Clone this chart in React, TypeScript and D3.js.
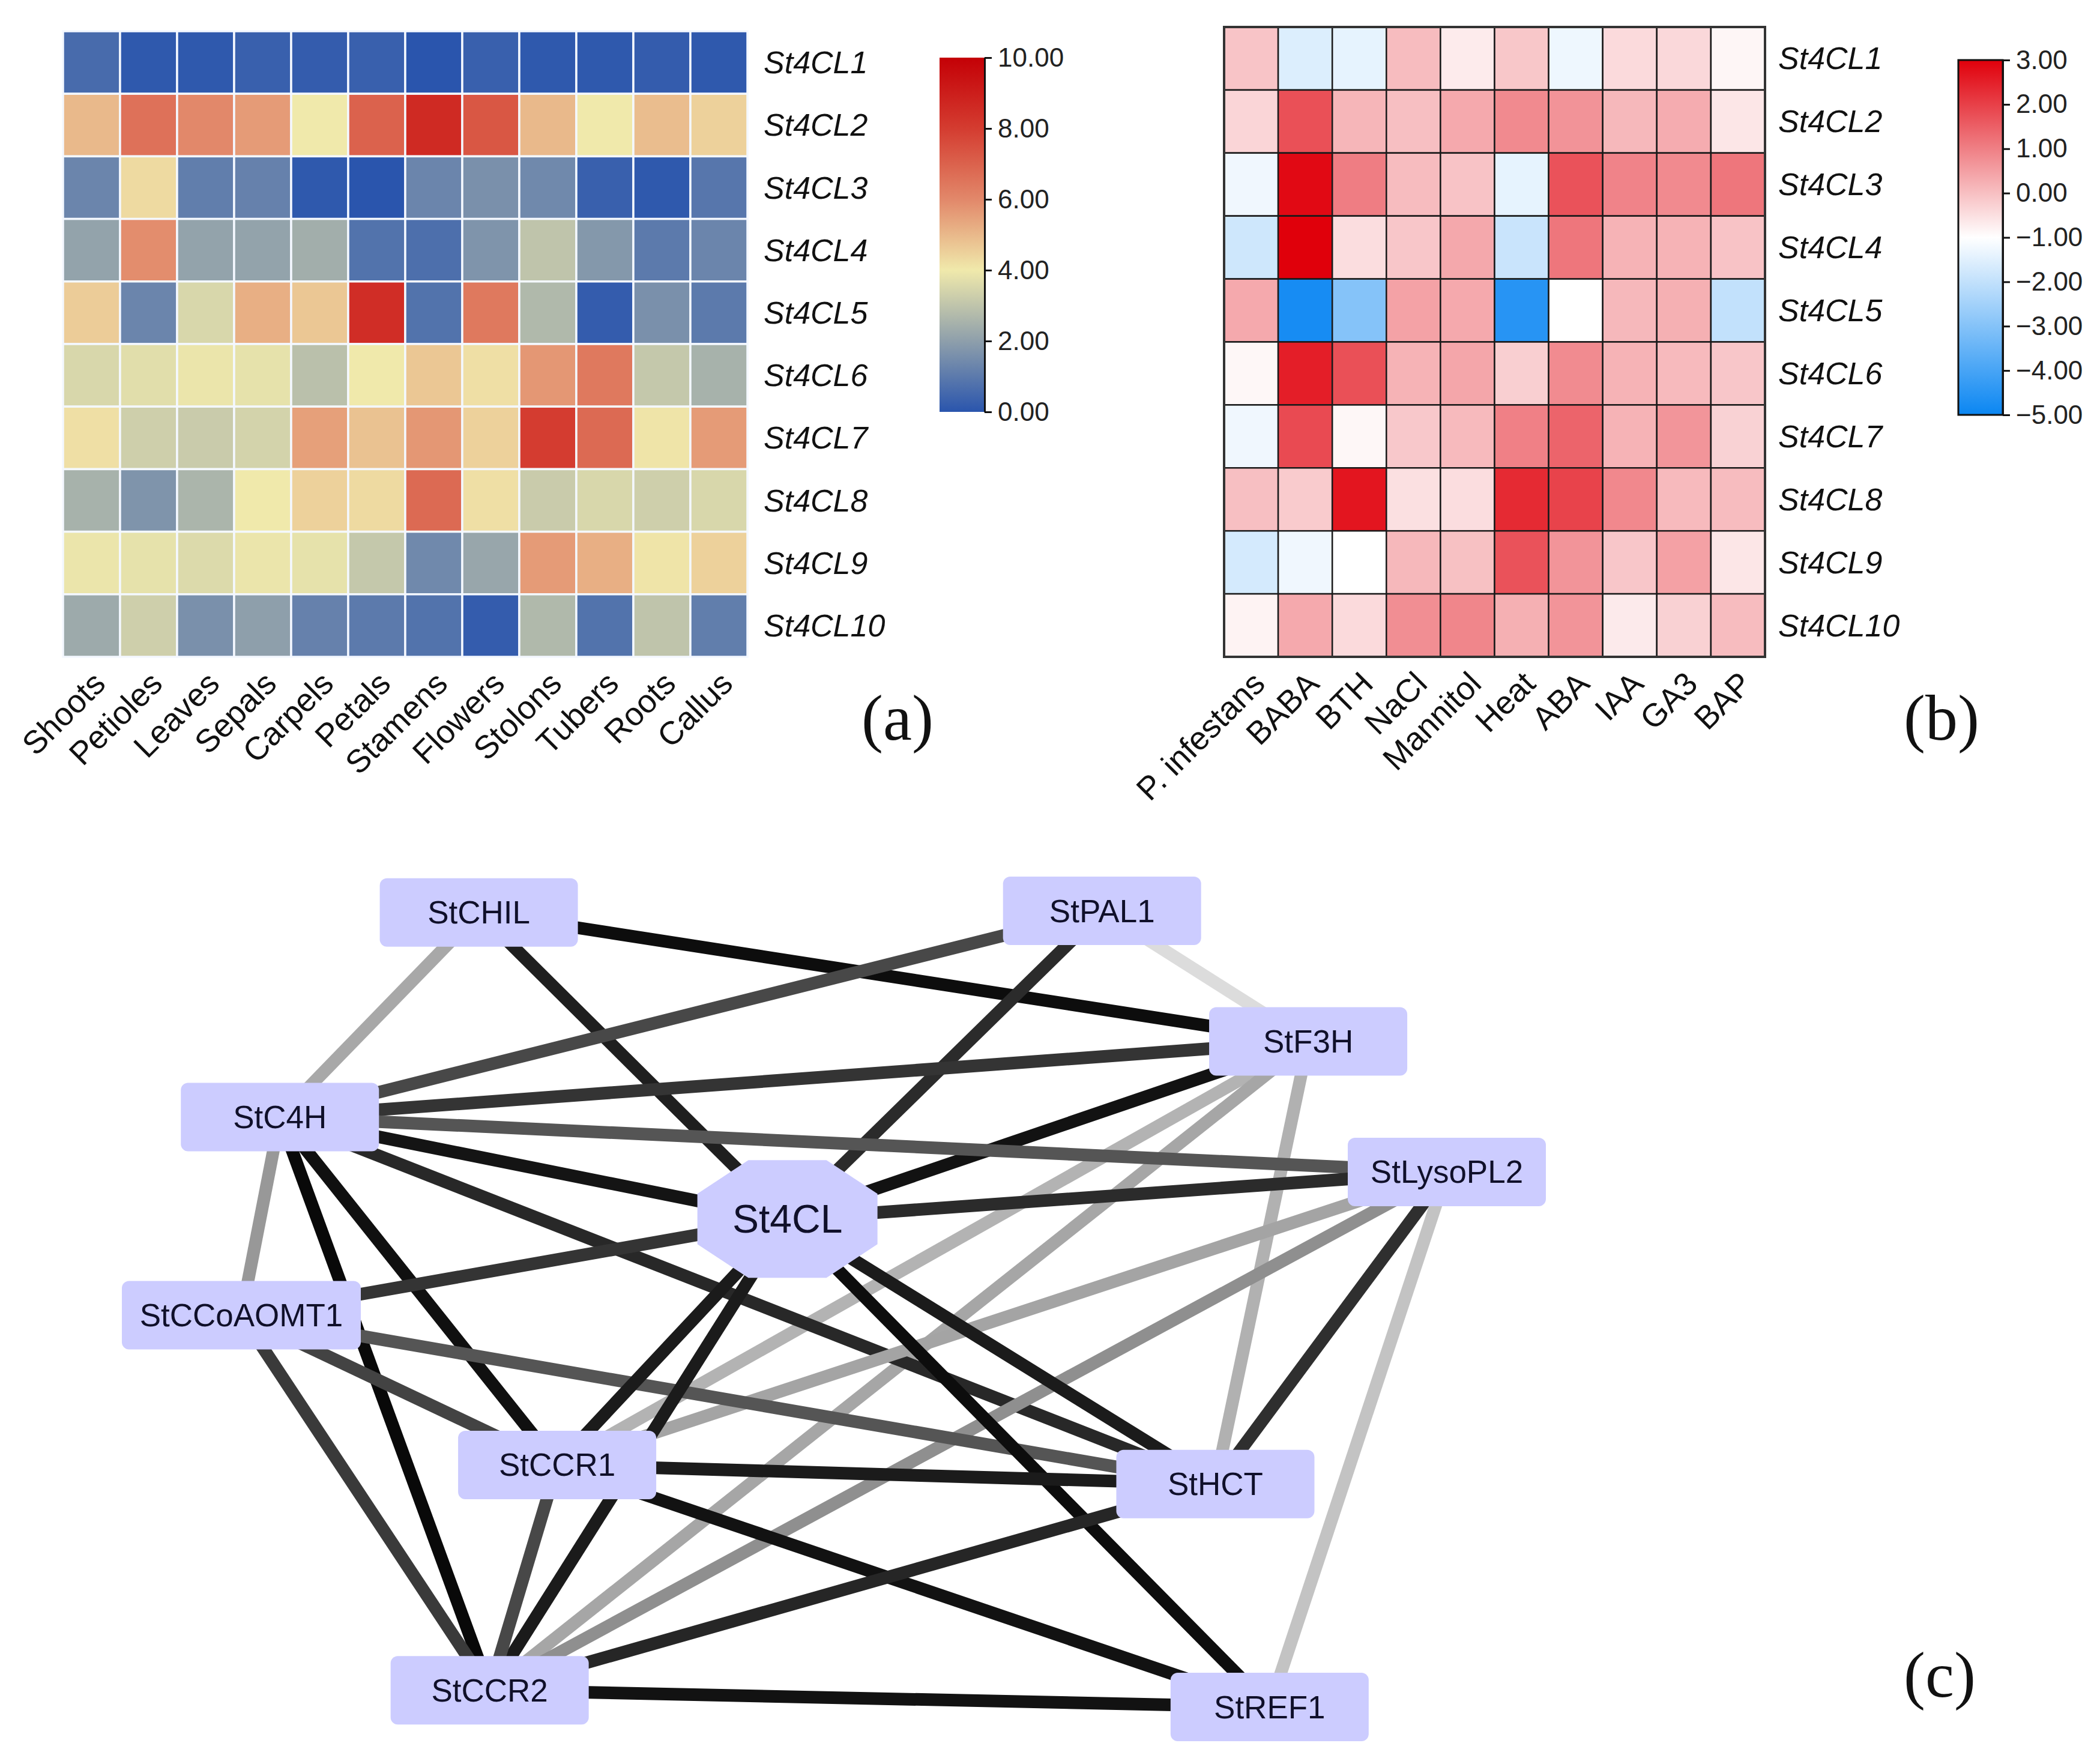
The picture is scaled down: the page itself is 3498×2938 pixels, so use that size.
import React, { useRef, useEffect } from 'react';
import * as d3 from 'd3';

// genes (rows of both heatmaps)
const genes = ["St4CL1", "St4CL2", "St4CL3", "St4CL4", "St4CL5", "St4CL6", "St4CL7", "St4CL8", "St4CL9", "St4CL10"];
const tissues = ["Shoots", "Petioles", "Leaves", "Sepals", "Carpels", "Petals", "Stamens", "Flowers", "Stolons", "Tubers", "Roots", "Callus"];
const treatments = ["P. infestans", "BABA", "BTH", "NaCl", "Mannitol", "Heat", "ABA", "IAA", "GA3", "BAP"];

// (a) expression per tissue, one row per gene
const tissueExpr = [
    [0.6, 0.1, 0.1, 0.3, 0.2, 0.3, 0.0, 0.3, 0.1, 0.1, 0.2, 0.1],
    [5.0, 6.6, 6.0, 5.6, 4.0, 7.0, 8.6, 7.3, 5.0, 4.0, 4.9, 4.5],
    [1.3, 4.3, 1.1, 1.2, 0.1, 0.0, 1.3, 1.6, 1.4, 0.3, 0.1, 0.9],
    [2.1, 5.9, 2.1, 2.1, 2.4, 0.8, 0.7, 1.7, 3.0, 1.8, 1.0, 1.3],
    [4.6, 1.3, 3.5, 5.2, 4.7, 8.5, 0.8, 6.4, 2.7, 0.2, 1.6, 1.0],
    [3.5, 3.7, 3.9, 3.8, 2.9, 4.0, 4.7, 4.2, 5.7, 6.4, 3.1, 2.5],
    [4.2, 3.3, 3.2, 3.4, 5.5, 4.8, 5.7, 4.5, 8.0, 6.8, 4.1, 5.6],
    [2.5, 1.7, 2.6, 4.0, 4.5, 4.3, 6.8, 4.2, 3.2, 3.5, 3.3, 3.5],
    [3.9, 3.8, 3.6, 3.9, 3.8, 3.1, 1.4, 2.2, 5.6, 5.2, 4.1, 4.5],
    [2.3, 3.3, 1.6, 2.0, 1.2, 1.0, 0.8, 0.2, 2.7, 0.8, 3.0, 1.1],
];

// (b) log2 fold change per treatment, one row per gene
const treatmentExpr = [
    [-0.08, -1.57, -1.41, 0.05, -0.69, -0.12, -1.28, -0.42, -0.39, -0.86],
    [-0.34, 1.75, 0.15, 0.0, 0.35, 0.84, 0.69, 0.11, 0.30, -0.61],
    [-1.25, 2.86, 1.04, 0.05, -0.06, -1.41, 1.71, 0.94, 0.84, 1.15],
    [-1.8, 3.0, -0.47, -0.11, 0.36, -1.88, 1.15, 0.19, 0.19, -0.06],
    [0.35, -4.79, -3.0, 0.46, 0.35, -4.53, -1.0, 0.11, 0.24, -1.99],
    [-0.87, 2.53, 1.75, 0.19, 0.40, -0.25, 0.82, 0.19, 0.08, -0.11],
    [-1.25, 1.84, -0.87, -0.14, 0.08, 0.99, 1.43, 0.19, 0.66, -0.29],
    [0.0, -0.18, 2.67, -0.51, -0.47, 2.34, 1.95, 0.87, 0.08, 0.05],
    [-1.71, -1.25, -1.0, 0.11, -0.02, 1.71, 0.68, -0.11, 0.47, -0.61],
    [-0.81, 0.35, -0.42, 0.77, 0.90, 0.24, 0.68, -0.67, -0.28, 0.05],
];

const tissueTicks = [0, 2, 4, 6, 8, 10];
const treatmentTicks = [3, 2, 1, 0, -1, -2, -3, -4, -5];

// (c) co-expression network, layout in a 0..1000 space
const nodeNames = ["StCHIL", "StPAL1", "StF3H", "StC4H", "StLysoPL2", "St4CL", "StCCoAOMT1", "StCCR1", "StHCT", "StCCR2", "StREF1"];
const nodeLayoutX = [197, 714, 885, 32, 1000, 453, 0, 262, 808, 206, 853];
const nodeLayoutY = [2, 0, 164, 259, 328, 387, 508, 696, 720, 979, 1000];

// [source, target, strength 0..1]
const edgeList: [string, string, number][] = [
    ["StCHIL", "StF3H", 0.94], ["StCHIL", "St4CL", 0.86], ["StCHIL", "StC4H", 0.25],
    ["StPAL1", "StC4H", 0.68], ["StPAL1", "St4CL", 0.81], ["StPAL1", "StF3H", 0.02],
    ["StF3H", "StC4H", 0.77], ["StF3H", "St4CL", 0.92], ["StF3H", "StHCT", 0.21],
    ["StF3H", "StCCR1", 0.20], ["StF3H", "StCCR2", 0.26],
    ["StC4H", "StLysoPL2", 0.62], ["StC4H", "St4CL", 0.91], ["StC4H", "StHCT", 0.82],
    ["StC4H", "StCCR1", 0.93], ["StC4H", "StCCR2", 0.96], ["StC4H", "StCCoAOMT1", 0.32],
    ["StLysoPL2", "St4CL", 0.81], ["StLysoPL2", "StHCT", 0.79], ["StLysoPL2", "StREF1", 0.13],
    ["StLysoPL2", "StCCR1", 0.27], ["StLysoPL2", "StCCR2", 0.36],
    ["StCCoAOMT1", "St4CL", 0.77], ["StCCoAOMT1", "StHCT", 0.62], ["StCCoAOMT1", "StCCR1", 0.70],
    ["StCCoAOMT1", "StCCR2", 0.74],
    ["St4CL", "StCCR1", 0.88], ["St4CL", "StCCR2", 0.88], ["St4CL", "StHCT", 0.88], ["St4CL", "StREF1", 0.94],
    ["StCCR1", "StHCT", 0.88], ["StCCR1", "StREF1", 0.92], ["StCCR1", "StCCR2", 0.68],
    ["StCCR2", "StHCT", 0.83], ["StCCR2", "StREF1", 0.92],
];

const FONT = "'Liberation Sans', Arial, Helvetica, sans-serif";
const SERIF = "'Liberation Serif', 'Times New Roman', serif";

function App() {
    const svgRef = useRef<SVGSVGElement | null>(null);

    useEffect(() => {
        if (!svgRef.current) return;
        const svg = d3.select(svgRef.current);
        svg.selectAll("*").remove();
        const width = 3498;
        const height = 2938;
        svg.attr("width", width).attr("height", height).style("background", "#fff");
        const defs = svg.append("defs");

        // ---------- (a) tissue heatmap ----------
        const xa = d3.scaleBand().domain(tissues).range([105, 1245]);
        const ya = d3.scaleBand().domain(genes).range([52, 1094]);
        const colorA = d3.scaleLinear<string>()
            .domain([0, 2, 4, 6, 8, 10])
            .range(["#2a55ad", "#8e9fab", "#f0e9ab", "#e2886a", "#d43c30", "#c40006"])
            .clamp(true);

        const cellsA = genes.flatMap((g, i) => tissues.map((t, j) => ({ g, t, v: tissueExpr[i][j] })));
        svg.append("g")
            .selectAll("rect")
            .data(cellsA)
            .join("rect")
            .attr("x", d => xa(d.t)!)
            .attr("y", d => ya(d.g)!)
            .attr("width", xa.bandwidth())
            .attr("height", ya.bandwidth())
            .attr("fill", d => colorA(d.v))
            .attr("stroke", "#f4f8ff")
            .attr("stroke-width", 3.5);

        svg.append("g")
            .selectAll("text")
            .data(genes)
            .join("text")
            .attr("x", 1272)
            .attr("y", d => ya(d)! + ya.bandwidth() / 2)
            .attr("dominant-baseline", "central")
            .attr("font-family", FONT)
            .attr("font-style", "italic")
            .attr("font-size", 52)
            .attr("fill", "#111")
            .text(d => d);

        svg.append("g")
            .selectAll("text")
            .data(tissues)
            .join("text")
            .attr("transform", d => `translate(${xa(d)! + xa.bandwidth() / 2 + 26},${1094 + 48}) rotate(-45)`)
            .attr("text-anchor", "end")
            .attr("font-family", FONT)
            .attr("font-size", 54)
            .attr("fill", "#111")
            .text(d => d);

        // legend (a)
        const legA = d3.scaleLinear().domain([0, 10]).range([686, 96]);
        const gradA = defs.append("linearGradient").attr("id", "gradA")
            .attr("x1", 0).attr("y1", 1).attr("x2", 0).attr("y2", 0);
        colorA.domain().forEach(v => {
            gradA.append("stop").attr("offset", `${v * 10}%`).attr("stop-color", colorA(v));
        });
        svg.append("rect")
            .attr("x", 1565).attr("y", 96).attr("width", 75).attr("height", 590)
            .attr("fill", "url(#gradA)");
        svg.append("g")
            .attr("transform", "translate(1640,0)")
            .call(d3.axisRight(legA).tickValues(tissueTicks).tickFormat(d3.format(".2f")).tickSize(12).tickSizeOuter(0).tickPadding(10))
            .call(g => g.selectAll("path,line").attr("stroke", "#111").attr("stroke-width", 3))
            .call(g => g.selectAll("text").attr("font-family", FONT).attr("font-size", 44).attr("fill", "#222"));

        // ---------- (b) treatment heatmap ----------
        const xb = d3.scaleBand().domain(treatments).range([2039, 2940]);
        const yb = d3.scaleBand().domain(genes).range([45, 1094]);
        const colorB = d3.scaleLinear<string>()
            .domain([-5, -1, 3])
            .range(["#0a86f2", "#ffffff", "#e0000b"])
            .clamp(true);

        const cellsB = genes.flatMap((g, i) => treatments.map((t, j) => ({ g, t, v: treatmentExpr[i][j] })));
        svg.append("g")
            .selectAll("rect")
            .data(cellsB)
            .join("rect")
            .attr("x", d => xb(d.t)!)
            .attr("y", d => yb(d.g)!)
            .attr("width", xb.bandwidth())
            .attr("height", yb.bandwidth())
            .attr("fill", d => colorB(d.v))
            .attr("stroke", "#1a1a1a")
            .attr("stroke-width", 2.5);
        svg.append("rect")
            .attr("x", 2039).attr("y", 45).attr("width", 901).attr("height", 1049)
            .attr("fill", "none").attr("stroke", "#333").attr("stroke-width", 4);

        svg.append("g")
            .selectAll("text")
            .data(genes)
            .join("text")
            .attr("x", 2962)
            .attr("y", d => yb(d)! + yb.bandwidth() / 2)
            .attr("dominant-baseline", "central")
            .attr("font-family", FONT)
            .attr("font-style", "italic")
            .attr("font-size", 52)
            .attr("fill", "#111")
            .text(d => d);

        svg.append("g")
            .selectAll("text")
            .data(treatments)
            .join("text")
            .attr("transform", d => `translate(${xb(d)! + xb.bandwidth() / 2 + 26},${1094 + 48}) rotate(-45)`)
            .attr("text-anchor", "end")
            .attr("font-family", FONT)
            .attr("font-size", 54)
            .attr("fill", "#111")
            .text(d => d);

        // legend (b)
        const legB = d3.scaleLinear().domain([-5, 3]).range([691, 100]);
        const gradB = defs.append("linearGradient").attr("id", "gradB")
            .attr("x1", 0).attr("y1", 1).attr("x2", 0).attr("y2", 0);
        colorB.domain().forEach(v => {
            gradB.append("stop").attr("offset", `${(v + 5) / 8 * 100}%`).attr("stop-color", colorB(v));
        });
        svg.append("rect")
            .attr("x", 3262).attr("y", 100).attr("width", 74).attr("height", 591)
            .attr("fill", "url(#gradB)").attr("stroke", "#111").attr("stroke-width", 3);
        svg.append("g")
            .attr("transform", "translate(3336,0)")
            .call(d3.axisRight(legB).tickValues(treatmentTicks).tickFormat(d3.format(".2f")).tickSize(12).tickSizeOuter(0).tickPadding(10))
            .call(g => g.selectAll("path,line").attr("stroke", "#111").attr("stroke-width", 3))
            .call(g => g.selectAll("text").attr("font-family", FONT).attr("font-size", 44).attr("fill", "#222"));

        // ---------- (c) network ----------
        const xs = d3.scaleLinear().domain([0, 1000]).range([402, 2410]);
        const ys = d3.scaleLinear().domain([0, 1000]).range([1517, 2843]);
        const edgeColor = d3.scaleLinear<string>().domain([0, 1]).range(["#e0e0e0", "#000000"]);
        const nodes = nodeNames.map((name, i) => ({ name, x: xs(nodeLayoutX[i]), y: ys(nodeLayoutY[i]) }));
        const byName = new Map(nodes.map(n => [n.name, n]));

        svg.append("g")
            .selectAll("line")
            .data(edgeList)
            .join("line")
            .attr("x1", d => byName.get(d[0])!.x)
            .attr("y1", d => byName.get(d[0])!.y)
            .attr("x2", d => byName.get(d[1])!.x)
            .attr("y2", d => byName.get(d[1])!.y)
            .attr("stroke", d => edgeColor(d[2]))
            .attr("stroke-width", 21);

        const nodeG = svg.append("g")
            .selectAll("g")
            .data(nodes)
            .join("g")
            .attr("transform", d => `translate(${d.x},${d.y})`);

        nodeG.filter(d => d.name !== "St4CL")
            .append("rect")
            .attr("x", d => -(d.name.length > 9 ? 398 : 330) / 2)
            .attr("y", -57)
            .attr("width", d => d.name.length > 9 ? 398 : 330)
            .attr("height", 114)
            .attr("rx", 12)
            .attr("fill", "#ccccff");

        // octagon for the hub gene
        const hw = 150, hh = 98, cx = 85, cy = 56;
        nodeG.filter(d => d.name === "St4CL")
            .append("path")
            .attr("d", d3.line()([
                [-hw + cx, -hh], [hw - cx, -hh], [hw, -hh + cy], [hw, hh - cy],
                [hw - cx, hh], [-hw + cx, hh], [-hw, hh - cy], [-hw, -hh + cy],
            ]) + "Z")
            .attr("fill", "#ccccff");

        nodeG.append("text")
            .attr("text-anchor", "middle")
            .attr("dominant-baseline", "central")
            .attr("font-family", FONT)
            .attr("font-size", d => d.name === "St4CL" ? 66 : 53)
            .attr("fill", "#10102a")
            .text(d => d.name);

        // panel letters
        const panels: [string, number, number][] = [["(a)", 1495, 1232], ["(b)", 3234, 1232], ["(c)", 3231, 2826]];
        svg.append("g")
            .selectAll("text")
            .data(panels)
            .join("text")
            .attr("x", d => d[1])
            .attr("y", d => d[2])
            .attr("text-anchor", "middle")
            .attr("font-family", SERIF)
            .attr("font-size", 108)
            .attr("fill", "#111")
            .text(d => d[0]);
    }, []);

    return (
        <div style={{ position: 'absolute', left: 0, top: 0 }}>
            <svg ref={svgRef}></svg>
        </div>
    );
}

export default App;
